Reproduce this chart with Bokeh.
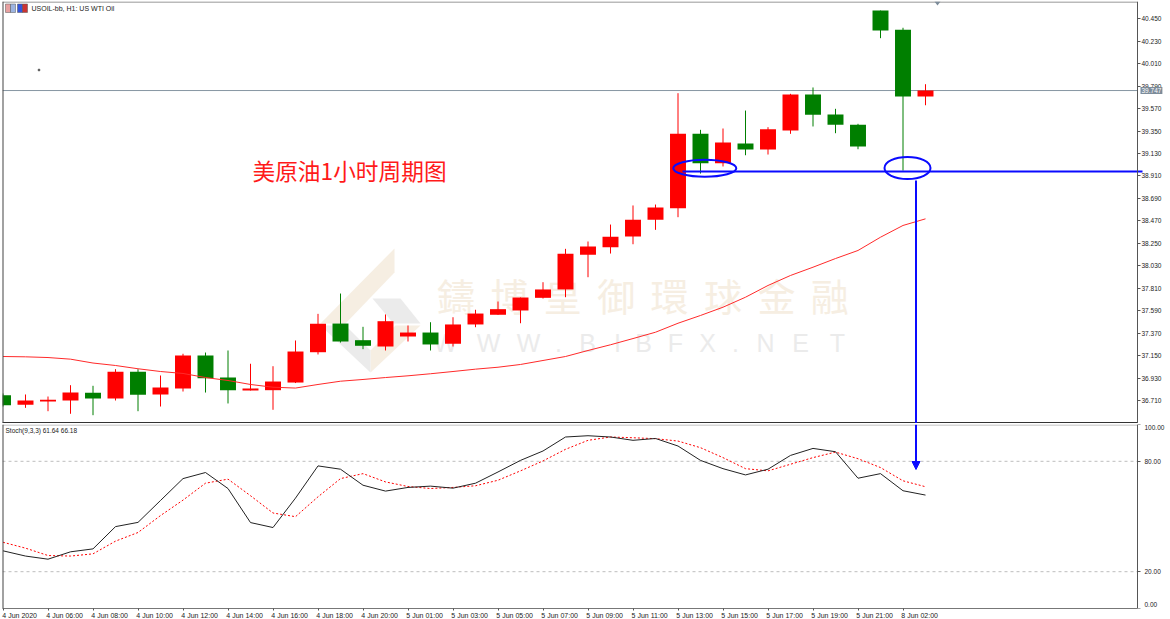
from bokeh.plotting import figure
from bokeh.layouts import column
from bokeh.models import FixedTicker, Label, Arrow, NormalHead, Span, LinearAxis
from bokeh.core.properties import value
from bokeh.embed import file_html
from bokeh.resources import INLINE

open_ = [36.762,36.668,36.700,36.710,36.785,36.730,36.991,36.769,36.828,37.151,36.935,36.808,36.811,36.886,37.183,37.464,37.301,37.239,37.337,37.376,37.266,37.455,37.550,37.592,37.716,37.798,38.138,38.212,38.317,38.480,38.594,39.323,39.035,39.228,39.169,39.355,39.708,39.512,39.411,40.531,40.342,39.689]
close = [36.664,36.710,36.717,36.788,36.730,36.991,36.766,36.837,37.151,36.928,36.811,36.828,36.896,37.190,37.462,37.288,37.246,37.487,37.376,37.259,37.455,37.562,37.605,37.719,37.798,38.147,38.219,38.314,38.480,38.601,39.323,39.035,39.238,39.169,39.368,39.708,39.509,39.411,39.199,40.335,39.689,39.747]
high = [36.779,36.769,36.749,36.860,36.854,37.017,37.017,36.955,37.168,37.180,37.200,37.070,37.046,37.298,37.559,37.758,37.432,37.553,37.445,37.477,37.526,37.599,37.680,37.719,37.869,38.196,38.268,38.434,38.621,38.630,39.721,39.362,39.375,39.551,39.388,39.715,39.777,39.568,39.421,40.531,40.362,39.809]
low = [36.651,36.638,36.605,36.580,36.566,36.710,36.605,36.651,36.798,36.788,36.681,36.808,36.619,36.881,37.161,37.278,37.213,37.200,37.288,37.200,37.239,37.428,37.550,37.467,37.709,37.722,37.918,38.150,38.241,38.382,38.506,38.934,39.003,39.113,39.120,39.323,39.395,39.329,39.172,40.260,38.963,39.603]
ma = [37.141,37.138,37.131,37.115,37.077,37.053,37.021,36.994,36.975,36.935,36.906,36.867,36.840,36.832,36.867,36.899,36.916,36.935,36.952,36.972,36.994,37.017,37.036,37.063,37.102,37.141,37.200,37.256,37.317,37.379,37.467,37.543,37.624,37.722,37.837,37.935,38.016,38.101,38.180,38.310,38.425,38.490]
stoch_main = [31.35,28.5,26.8,30.8,32.4,44.5,46.8,58.7,70.6,73.9,65.2,46.7,44.0,60.0,77.5,75.7,67.0,63.8,65.8,66.5,65.4,68.1,74.2,80.5,85.6,93.2,93.9,93.2,91.4,92.4,88.3,80.5,76.0,72.6,75.7,83.2,87.0,85.2,70.8,73.3,64.0,61.64]
stoch_signal = [36.0,32.8,28.8,28.5,29.7,36.6,41.3,50.5,58.9,68.1,70.3,61.3,51.9,49.9,60.7,70.6,73.3,68.8,66.3,65.2,65.8,66.7,69.7,74.8,80.2,86.5,91.4,93.2,92.8,92.3,91.0,87.4,82.0,76.0,74.8,78.4,82.0,85.0,81.4,76.6,69.4,66.18]
price_ticks = [36.71,36.93,37.15,37.37,37.59,37.81,38.03,38.25,38.47,38.69,38.91,39.13,39.35,39.57,39.79,40.01,40.23,40.45]
stoch_ticks = [20, 80]
time_labels = ["4 Jun 2020","4 Jun 06:00","4 Jun 08:00","4 Jun 10:00","4 Jun 12:00","4 Jun 14:00","4 Jun 16:00","4 Jun 18:00","4 Jun 20:00","5 Jun 01:00","5 Jun 03:00","5 Jun 05:00","5 Jun 07:00","5 Jun 09:00","5 Jun 11:00","5 Jun 13:00","5 Jun 15:00","5 Jun 17:00","5 Jun 19:00","5 Jun 21:00","8 Jun 02:00"]
last_price = 39.747
level_price = 38.954
title_text = "USOIL-bb, H1: US WTI Oil"
stoch_text = "Stoch(9,3,3) 61.64 66.18"
note_text = "美原油1小时周期图"
wm_cn = "鑄博皇御環球金融"
wm_en = "WWW.BIBFX.NET"

FONT = "Liberation Sans"
n = len(open_)
idx = list(range(n))
up = [c >= o for o, c in zip(open_, close)]
RED, GREEN, BLUE = "#ff0000", "#007f00", "#0a0aff"


def X(px):  # page pixel to bar index, for decorations only
    return (px - 2.5) / 22.5


def Y(py):  # page pixel to price, for decorations only
    return 36.71 + (400 - py) / 102.06


def V(py):  # page pixel to stochastic value, for decorations only
    return (608 - py) / 184 * 100


x_range = (X(2), X(1170))
AXIS_X = X(1137)
p1 = figure(width=1170, height=423, frame_width=1168, frame_height=422, min_border_left=2, min_border_right=0,
            min_border_top=1, min_border_bottom=0, x_range=x_range, y_range=(Y(423), Y(1)),
            x_axis_location=None, y_axis_location=None, toolbar_location=None, output_backend="svg",
            background_fill_color="white", border_fill_color="white", outline_line_color=None)
p1.grid.visible = False
ax = LinearAxis(fixed_location=AXIS_X, ticker=FixedTicker(ticks=price_ticks))
ax.major_label_overrides = {t: f"{t:.3f}" for t in price_ticks}
ax.major_tick_in = 0
ax.major_tick_out = 3
ax.minor_tick_out = 0
ax.minor_tick_in = 0
ax.axis_line_color = "#555555"
ax.major_tick_line_color = "#555555"
ax.major_label_standoff = 1
ax.major_label_text_font = FONT
ax.major_label_text_font_size = "6.5px"
ax.major_label_text_color = "#222222"
p1.add_layout(ax, "right")

# watermark (under everything)
tan, wgray = "#f6eee2", "#ebebeb"
p1.patch([X(v) for v in (394, 394, 345, 320)], [Y(v) for v in (248, 272, 323, 323)], color=tan, line_alpha=0)
p1.patch([X(v) for v in (420, 395, 370, 370)], [Y(v) for v in (325, 325, 350, 372)], color=tan, line_alpha=0)
p1.patch([X(v) for v in (372, 400, 420, 393)], [Y(v) for v in (298, 298, 323, 323)], color=wgray, line_alpha=0)
p1.patch([X(v) for v in (320, 345, 370, 370)], [Y(v) for v in (325, 325, 350, 372)], color=wgray, line_alpha=0)
p1.text([X(436.5 + 53.4 * i) for i in range(len(wm_cn))], [Y(294)] * len(wm_cn), text=list(wm_cn),
        text_font=value("Noto Sans CJK TC"), text_font_size="38px", text_color=tan,
        text_baseline="middle", text_align="left")
en_pos = [445, 488, 528, 558, 587, 617, 643, 675, 707, 735, 765, 800, 837]
p1.text([X(v) for v in en_pos], [Y(342.5)] * len(en_pos), text=list(wm_en),
        text_font=value(FONT), text_font_size="25px", text_color=wgray,
        text_baseline="middle", text_align="center")

# panel borders
p1.segment([X(2), X(2)], [Y(1.5), Y(422.5)], [AXIS_X, AXIS_X], [Y(1.5), Y(422.5)],
           line_color=["#777777", "#333333"], line_width=[1, 2])
p1.add_layout(Span(location=X(2), dimension="height", line_color="#444444", line_width=2))

# header decorations
p1.quad(left=[X(5), X(10), X(17), X(22)], right=[X(10), X(15), X(22), X(27)],
        top=[Y(3.5)] * 4, bottom=[Y(12)] * 4,
        fill_color=["#e8a0a0", "#9db4e0", "#3355dd", "#cc3333"], line_color="#555555", line_width=0.5)
p1.add_layout(Label(x=X(31), y=Y(8), text=title_text, text_font=FONT, text_font_size="7px",
                    text_color="#222222", text_baseline="middle"))
p1.scatter([X(38.5)], [Y(69.5)], marker="square", size=1.5, color="#555555")
p1.patch([X(934), X(940), X(937)], [Y(1), Y(1), Y(5)], color="#7d8c9a", line_alpha=0)

# price line
p1.segment([X(2)], [last_price], [AXIS_X], [last_price], line_color="#8796a3", line_width=1)

# candles
wick_colors = [RED if u else GREEN for u in up]
p1.segment(idx, high, idx, low, color=wick_colors, line_width=1)
p1.vbar(x=idx, top=[max(o, c) for o, c in zip(open_, close)], bottom=[min(o, c) for o, c in zip(open_, close)],
        width=0.71, fill_color=wick_colors, line_color=wick_colors, line_width=0)
p1.line(idx, ma, line_color="#ff2a2a", line_width=1)

# hand-drawn notes
p1.segment([X(682)], [level_price], [X(1142)], [level_price], line_color=BLUE, line_width=2)
p1.ellipse(x=[X(704.3), X(907)], y=[Y(167.7), Y(167.5)], width=[63, 46], height=[17, 22],
           width_units="screen", height_units="screen", fill_alpha=0, line_color=BLUE, line_width=2)
p1.segment([X(915.5)], [Y(180)], [X(915.5)], [Y(423)], line_color=BLUE, line_width=2)
p1.add_layout(Label(x=X(252), y=Y(170), text=note_text, text_font="Noto Sans CJK SC", text_font_size="22.7px",
                    text_color="#ff1a1a", text_baseline="middle"))
# current price tag
p1.add_layout(Label(x=X(1140), y=last_price, text=f"{last_price:.3f}",
                    text_font=FONT, text_font_size="6.5px", text_color="white", text_baseline="middle",
                    background_fill_color="#7d8c9a", padding=1))

p2 = figure(width=1170, height=196, frame_width=1168, frame_height=184, min_border_left=2, min_border_right=0,
            min_border_top=1, min_border_bottom=11, x_range=x_range, y_range=(0, 100),
            y_axis_location=None, toolbar_location=None, output_backend="svg",
            background_fill_color="white", border_fill_color="white", outline_line_color=None)
p2.grid.visible = False
ay = LinearAxis(fixed_location=AXIS_X, ticker=FixedTicker(ticks=[V(604), 20, 80, V(427)], minor_ticks=[0, 20, 80, 100]))
ay.major_label_overrides = {V(604): "0.00", 20: "20.00", 80: "80.00", V(427): "100.00"}
ay.major_tick_in = 0
ay.major_tick_out = 0
ay.minor_tick_out = 3
ay.minor_tick_in = 0
ay.axis_line_color = "#555555"
ay.minor_tick_line_color = "#555555"
ay.major_label_standoff = 4
ay.major_label_text_font = FONT
ay.major_label_text_font_size = "6.5px"
ay.major_label_text_color = "#222222"
p2.add_layout(ay, "right")
ticks_x = [i * 2 for i in range(len(time_labels))]
label_x = [t + 0.74 for t in ticks_x]  # labels start at their tick
ab = p2.xaxis[0]
ab.ticker = FixedTicker(ticks=label_x, minor_ticks=ticks_x)
ab.major_label_overrides = {t: s for t, s in zip(label_x, time_labels)}
ab.bounds = (X(2), AXIS_X)
ab.major_tick_in = 0
ab.major_tick_out = 0
ab.minor_tick_out = 2
ab.minor_tick_in = 0
ab.axis_line_color = "#777777"
ab.minor_tick_line_color = "#555555"
ab.major_label_standoff = 1
ab.major_label_text_font = FONT
ab.major_label_text_font_size = "7px"
ab.major_label_text_color = "#222222"

for t in stoch_ticks:
    p2.segment([X(2)], [t], [AXIS_X], [t], line_color="#bdbdbd", line_width=1, line_dash="3 3")
p2.segment([X(2)], [V(424.5)], [AXIS_X], [V(424.5)], line_color="#b0b0b0", line_width=1)
p2.add_layout(Span(location=X(2), dimension="height", line_color="#444444", line_width=2))
p2.line(idx, stoch_signal, line_color=RED, line_width=1, line_dash="2 2")
p2.line(idx, stoch_main, line_color="#222222", line_width=1)
p2.add_layout(Arrow(end=NormalHead(size=8, fill_color=BLUE, line_color=BLUE), x_start=X(915.5), y_start=100,
                    x_end=X(915.5), y_end=V(469), line_color=BLUE, line_width=2))
p2.add_layout(Label(x=X(5), y=V(430), text=stoch_text, text_font=FONT, text_font_size="6.5px",
                    text_color="#222222", text_baseline="middle"))

page = column(p1, p2, spacing=0)
open("out.html", "w").write(file_html(page, INLINE))
